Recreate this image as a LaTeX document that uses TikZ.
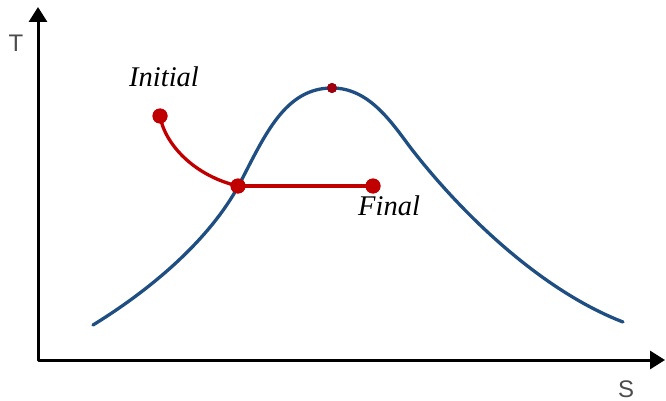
\documentclass[tikz,border=0pt]{standalone}
\usepackage{fontspec}
\setmainfont{Liberation Serif}
\setsansfont{Liberation Sans}
\usetikzlibrary{arrows.meta,positioning}
\definecolor{domeblue}{HTML}{1F4E82}
\definecolor{procred}{HTML}{C00000}
\definecolor{peakred}{HTML}{9E0010}

\begin{document}
\begin{tikzpicture}[x=1pt, y=-1pt,
  axis/.style={line width=3pt, line join=round, {Triangle[length=15pt,width=18pt]}-{Triangle[length=15pt,width=18pt]}},
  dome/.style={line width=3.3pt, draw=domeblue, line cap=round},
  procline/.style={line width=3.3pt, draw=procred},
  state/.style={circle, fill=procred, inner sep=0pt, minimum size=15pt},
  crit/.style={circle, fill=peakred, inner sep=0pt, minimum size=10pt},
  statelbl/.style={font=\fontsize{28.5}{31}\selectfont\itshape, inner sep=0pt, anchor=base west},
  axislbl/.style={font=\sffamily\fontsize{24}{26}\selectfont, text=black!70, inner sep=0pt}
]
\useasboundingbox (0,0) rectangle (666,401);

% axes
\coordinate (origin) at (38,360);
\coordinate (ttop) at (38,7);
\coordinate (send) at (665,360);
\draw[axis] (ttop) -- (origin) -- (send);
\node[axislbl] (tlabel) at (16,43) {T};
\node[axislbl] (slabel) at (626,389) {S};

% saturation dome
\coordinate (dleft) at (93,325);
\coordinate (dright) at (623,322);
\coordinate (infl) at (410,147);
\node[crit] (peak) at (332,88) {};
\node[state] (mid) at (238,186) {};
\draw[dome] (dleft) .. controls (150,290) and (210,240) .. (240,183)
  .. controls (265,135) and (285,88) .. (peak.center)
  .. controls (368,88) and (390,120) .. (infl)
  .. controls (460,212) and (540,290) .. (dright);
\node[crit] at (peak) {};

% process
\node[state] (init) at (160,116) {};
\node[state] (fin) at (373,186) {};
\draw[procline] (init.center) .. controls (165,145) and (195,176) .. (mid.center);
\draw[procline] (mid.center) -- (fin.center);
\node[state] at (init) {};
\node[state] at (mid) {};
\node[state] at (fin) {};

\node[statelbl] (initlbl) at (129,87) {Initial};
\node[statelbl] (finlbl) at (358,215) {Final};
\end{tikzpicture}
\end{document}
